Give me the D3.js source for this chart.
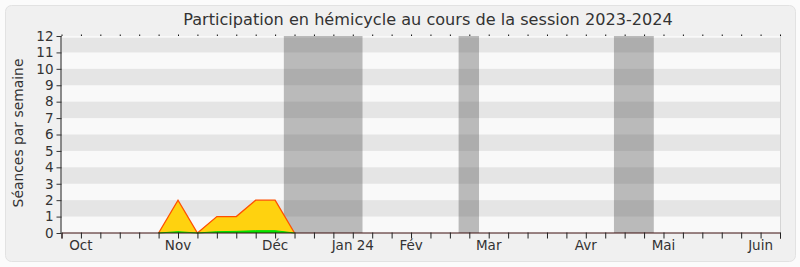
<!DOCTYPE html>
<html><head><meta charset="utf-8">
<script src="https://cdn.jsdelivr.net/npm/d3@7"></script>
<style>html,body{margin:0;padding:0;background:#fbfbfb;}svg{display:block;}</style>
</head><body>
<svg id="c" width="800" height="267"></svg>
<script>
const title = "Participation en hémicycle au cours de la session 2023-2024";
const yTitle = "Séances par semaine";
const weeks = d3.range(0, 38);
const presence = [0,0,0,0,0,0,2,0,1,1,2,2,0,0,0,0,0,0,0,0,0,0,0,0,0,0,0,0,0,0,0,0,0,0,0,0,0,0];
const interventions = [0,0,0,0,0,0,0.08,0,0.08,0.1,0.14,0.14,0,0,0,0,0,0,0,0,0,0,0,0,0,0,0,0,0,0,0,0,0,0,0,0,0,0];
const monthLabels = ["Oct","Nov","Déc","Jan 24","Fév","Mar","Avr","Mai","Juin"];
const monthWeeks = [1,6,11,15,18,22,27,31,36];
const vacStart = [11.45,20.45,28.45];
const vacEnd = [15.5,21.5,30.5];
const yTicks = d3.range(0,13);

const svg = d3.select("#c");
const font = "'DejaVu Sans', Verdana, sans-serif";
const x = d3.scaleLinear().domain([0,37]).range([61.5,780]);
const y = d3.scaleLinear().domain([0,12]).range([233,36]);

// panel
svg.append("rect").attr("x",5.5).attr("y",5.5).attr("width",790).attr("height",256).attr("rx",6)
  .attr("fill","#f0f0f0").attr("stroke","#e2e2e2");

// plot background
svg.append("rect").attr("x",x(0)).attr("y",y(12)).attr("width",x(37)-x(0)).attr("height",y(0)-y(12)).attr("fill","#f9f9f9");
const stripes = yTicks.filter(v => v%2===1);
svg.selectAll(".stripe").data(stripes).enter().append("rect")
  .attr("x",x(0)).attr("width",x(37)-x(0))
  .attr("y",d=>y(d+1)+ (d===11?1.7:0)).attr("height",d=>y(d)-y(d+1)-(d===11?1.7:0))
  .attr("fill","#e5e5e5");
svg.append("line").attr("x1",780.5).attr("x2",780.5).attr("y1",y(12)).attr("y2",y(0)).attr("stroke","#d4d4d4");

// vacations
svg.selectAll(".vac").data(vacStart).enter().append("rect")
  .attr("x",(d)=>x(d)).attr("width",(d,i)=>x(vacEnd[i])-x(d))
  .attr("y",y(12)).attr("height",y(0)-y(12))
  .attr("fill","rgb(70,70,70)").attr("fill-opacity",0.35);

// active span of the series (from the week before the first session to the week after the last)
const nz = presence.map((v,i)=>v>0?i:-1).filter(i=>i>=0);
const i0 = Math.max(0, d3.min(nz)-1), i1 = Math.min(weeks.length-1, d3.max(nz)+1);
const pts = (arr) => d3.range(i0, i1+1).map(i => [weeks[i], arr[i]]);
const area = d3.area().x(d=>x(d[0])).y0(y(0)).y1(d=>y(d[1]));
const line = d3.line().x(d=>x(d[0])).y(d=>y(d[1]));
svg.append("path").datum(pts(presence)).attr("d",area).attr("fill","#ffd20f");
svg.append("path").datum(pts(presence)).attr("d",line).attr("fill","none").attr("stroke","#ff5000").attr("stroke-width",1.3);
svg.append("path").datum(pts(interventions)).attr("d",area).attr("fill","#00e600");
svg.append("path").datum(pts(interventions)).attr("d",line).attr("fill","none").attr("stroke","#00dd00").attr("stroke-width",1);

// x axis
const xa = svg.append("g").attr("transform",`translate(0,${y(0)-0.5})`)
  .call(d3.axisBottom(x).tickValues(weeks).tickSize(6).tickFormat(""));
xa.select(".domain").attr("stroke","#3a0d0d");
xa.selectAll(".tick line").attr("stroke","#222");
svg.selectAll(".mlab").data(monthLabels).enter().append("text")
  .attr("x",(d,i)=>x(monthWeeks[i])).attr("y",250).attr("text-anchor","middle")
  .attr("font-family",font).attr("font-size",13.5).attr("fill","#333").text(d=>d);
svg.append("g").attr("transform",`translate(0,${y(12)})`)
  .call(d3.axisTop(x).tickValues(weeks).tickSize(1.5).tickFormat(""))
  .call(g=>g.select(".domain").remove())
  .selectAll(".tick line").attr("stroke","#111");

// y axis
const ya = svg.append("g").attr("transform",`translate(${x(0)},0)`)
  .call(d3.axisLeft(y).tickValues(yTicks).tickSize(5).tickPadding(3).tickFormat(d3.format("d")));
ya.select(".domain").attr("stroke","#222").attr("d",`M-0.5,${y(12)}V${y(0)}`);
ya.selectAll(".tick line").attr("stroke","#333");
ya.selectAll("text").attr("font-family",font).attr("font-size",13.5).attr("fill","#333");

// titles
const t = svg.append("text").attr("x",428).attr("y",25).attr("text-anchor","middle")
  .attr("font-family",font).attr("font-size",16).attr("fill","#333").text(title);
t.attr("font-size",16*490/t.node().getComputedTextLength());
const yt = svg.append("text").attr("transform","translate(23,133) rotate(-90)").attr("text-anchor","middle")
  .attr("font-family",font).attr("font-size",14).attr("fill","#333").text(yTitle);
yt.attr("font-size",14*149/yt.node().getComputedTextLength());
</script>
</body></html>
